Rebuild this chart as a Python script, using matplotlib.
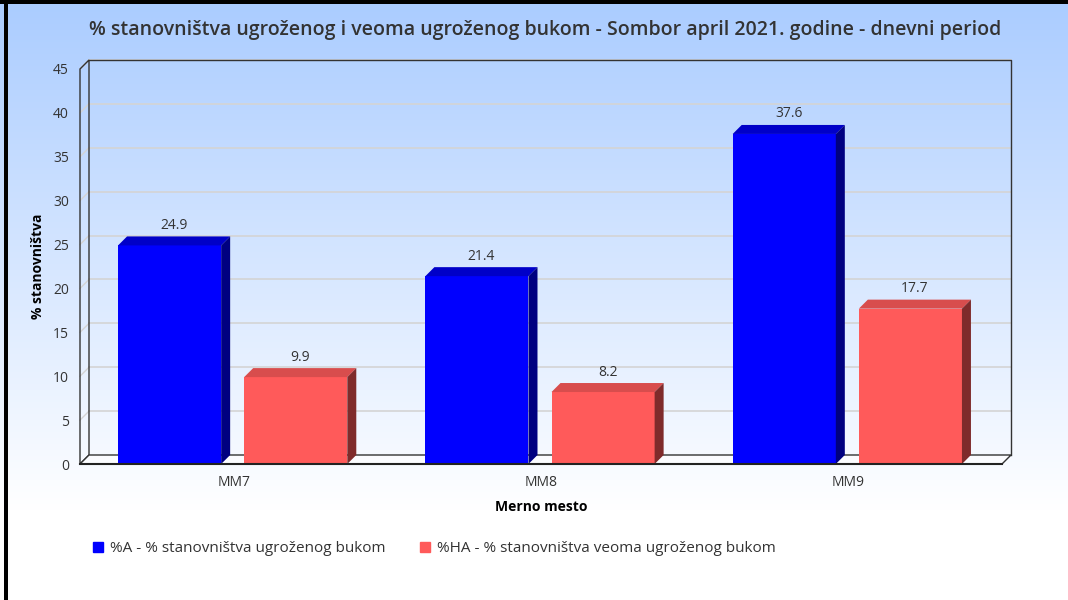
import numpy as np
import matplotlib
matplotlib.use("Agg")
import matplotlib.pyplot as plt
from matplotlib.patches import Polygon, Rectangle, Patch

plt.rcParams['font.family'] = ['Open Sans', 'DejaVu Sans']
plt.rcParams['text.color'] = '#333333'

# data
categories = ['MM7', 'MM8', 'MM9']
val_a = [24.9, 21.4, 37.6]
val_ha = [9.9, 8.2, 17.7]
label_a = '%A - % stanovništva ugroženog bukom'
label_ha = '%HA - % stanovništva veoma ugroženog bukom'
title = '% stanovništva ugroženog i veoma ugroženog bukom - Sombor april 2021. godine - dnevni period'
yticks = list(range(0, 50, 5))

W, H = 1068, 600
fig = plt.figure(figsize=(W / 100, H / 100), dpi=100)

# background gradient + frame
bg = fig.add_axes([0, 0, 1, 1], zorder=-10)
bg.set_xlim(0, W)
bg.set_ylim(H, 0)
bg.axis('off')
top = np.array([170, 204, 255]) / 255
grad = np.linspace(0, 1, 600)
t = np.clip(grad / 0.85, 0, 1)[:, None]
img = top * (1 - t) + np.ones(3) * t
bg.imshow(img[:, None, :], extent=[0, W, H, 0], aspect='auto')
bg.add_patch(Rectangle((0, 0), W, 4, color='black', lw=0))
bg.add_patch(Rectangle((4, 0), 4, H, color='black', lw=0))

# main axes = front plane
x0, x1, y0, y1 = 80, 1002, 464, 69
ax = fig.add_axes([x0 / W, 1 - y0 / H, (x1 - x0) / W, (y0 - y1) / H])
ax.set_xlim(0, 3)
ax.set_ylim(0, 45)
ax.patch.set_alpha(0)
for s in ax.spines.values():
    s.set_visible(False)

dx = 9 / (x1 - x0) * 3
dy = 9 / (y0 - y1) * 45
edge = '#333333'
kw = dict(clip_on=False)

# back wall grid
for v in yticks[1:]:
    ax.plot([dx, 3 + dx], [v + dy, v + dy], color='#d4d4d4', lw=1.2, zorder=1, **kw)
    ax.plot([0, dx], [v, v + dy], color='#d4d4d4', lw=1.0, zorder=1, **kw)
# left wall
ax.add_patch(Polygon([(0, 0), (dx, dy), (dx, 45 + dy), (0, 45)], closed=True,
                     fc='none', ec=edge, lw=1.0, zorder=2, **kw))
# back wall outline
ax.plot([dx, 3 + dx, 3 + dx], [45 + dy, 45 + dy, dy], color=edge, lw=1.0, zorder=2, **kw)
# floor
ax.add_patch(Polygon([(0, 0), (3, 0), (3 + dx, dy), (dx, dy)], closed=True,
                     fc='#fbfcff', ec=edge, lw=1.0, zorder=2, **kw))
ax.plot([0, 3], [0, 0], color='#222222', lw=1.5, zorder=6, **kw)

bw = 103 / 307
offs = [38 / 307, 164 / 307]
colors = [('#0000ff', '#0000c8', '#000080'), ('#ff5a5a', '#d84d4d', '#7f2b2b')]
xs = np.arange(len(categories))
for k, vals in enumerate([val_a, val_ha]):
    front, topc, side = colors[k]
    lefts = xs + offs[k]
    ax.bar(lefts, vals, width=bw, align='edge', color=front, lw=0, zorder=4)
    for xl, v in zip(lefts, vals):
        ax.add_patch(Polygon([(xl, v), (xl + bw, v), (xl + bw + dx, v + dy), (xl + dx, v + dy)],
                             closed=True, fc=topc, ec='none', zorder=4, **kw))
        ax.add_patch(Polygon([(xl + bw, 0), (xl + bw + dx, dy), (xl + bw + dx, v + dy), (xl + bw, v)],
                             closed=True, fc=side, ec='none', zorder=4, **kw))
        ax.text(xl + bw / 2 + dx / 2, v + dy + 0.4, f'{v}', ha='center', va='bottom',
                fontsize=10, color='#333333', zorder=7)

ax.set_xticks(xs + 0.5)
ax.set_xticklabels(categories)
ax.set_yticks(yticks)
ax.tick_params(axis='both', length=0, labelsize=10, colors='#333333')
ax.tick_params(axis='y', pad=8)
ax.tick_params(axis='x', pad=8)
ax.set_xlabel('Merno mesto', fontsize=10, fontweight='bold', labelpad=7)
ax.set_ylabel('% stanovništva', fontsize=10, fontweight='bold', labelpad=6)

fig.text(545 / W, 1 - 30 / H, title, ha='center', va='center', fontsize=14,
         fontweight='semibold', color='#333333')

handles = [Patch(color=colors[0][0], label=label_a), Patch(color=colors[1][0], label=label_ha)]
fig.legend(handles=handles, loc='center left', bbox_to_anchor=(79 / W, 1 - 549 / H), ncol=2,
           frameon=False, fontsize=11, handlelength=0.65, handleheight=0.65,
           handletextpad=0.45, columnspacing=2.3)

fig.savefig('out.png', dpi=100)
